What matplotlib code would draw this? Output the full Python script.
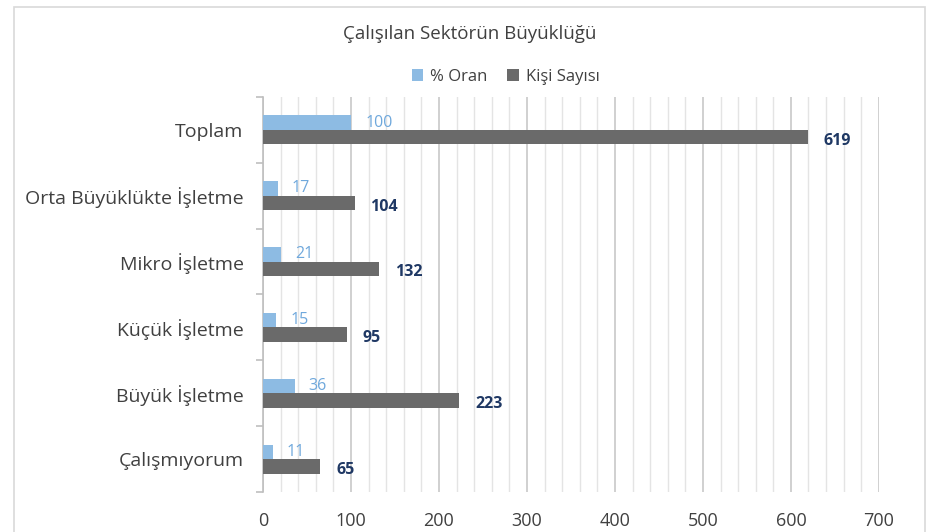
import matplotlib.pyplot as plt
import numpy as np
from matplotlib.patches import Rectangle
from matplotlib.ticker import MultipleLocator

plt.rcParams['font.family'] = ['Open Sans', 'DejaVu Sans']

categories = ['Çalışmıyorum', 'Büyük İşletme', 'Küçük İşletme', 'Mikro İşletme',
              'Orta Büyüklükte İşletme', 'Toplam']
oran = [11, 36, 15, 21, 17, 100]
kisi = [65, 223, 95, 132, 104, 619]

fig = plt.figure(figsize=(9.31, 5.32), dpi=100)
ax = fig.add_axes([0.2825, 0.075, 0.6615, 0.743])

# chart frame
fig.patches.append(Rectangle((14 / 931, -0.05), 911 / 931, 1 - 7 / 532 + 0.05,
                             transform=fig.transFigure, fill=False,
                             edgecolor='#d9d9d9', linewidth=1.2))

y = np.arange(len(categories))
h = 0.22
ax.barh(y + h / 2, oran, height=h, color='#8dbbe3', label='% Oran', zorder=3)
ax.barh(y - h / 2, kisi, height=h, color='#6a6a6a', label='Kişi Sayısı', zorder=3)

for i in range(len(categories)):
    ax.text(oran[i] + 16, y[i] + h * 0.5, str(oran[i]), color='#6fa8dc',
            fontsize=11.5, va='center', ha='left', zorder=4)
    ax.text(kisi[i] + 18, y[i] - h * 0.75, str(kisi[i]), color='#1f3864',
            fontsize=11.5, fontweight='bold', va='center', ha='left', zorder=4)

ax.set_xlim(0, 700)
ax.set_ylim(-0.5, 5.5)
ax.xaxis.set_major_locator(MultipleLocator(100))
ax.xaxis.set_minor_locator(MultipleLocator(20))
ax.grid(axis='x', which='major', color='#d0d0d0', linewidth=1.4, zorder=0)
ax.grid(axis='x', which='minor', color='#e4e4e4', linewidth=1.0, zorder=0)
ax.tick_params(axis='x', which='both', length=0, labelsize=13, colors='#404040', pad=14)

ax.set_yticks(y)
ax.set_yticklabels(categories)
ax.set_yticks(np.arange(-0.5, 6, 1), minor=True)
ax.tick_params(axis='y', which='major', length=0, labelsize=14, colors='#404040', pad=14)
ax.tick_params(axis='y', which='minor', length=5, color='#bfbfbf', width=1.2)

for s in ['top', 'right', 'bottom']:
    ax.spines[s].set_visible(False)
ax.spines['left'].set_color('#bfbfbf')
ax.spines['left'].set_linewidth(1.2)

fig.text(0.504, 0.937, 'Çalışılan Sektörün Büyüklüğü', ha='center', va='center',
         fontsize=13.5, color='#404040')
fig.legend(loc='center', bbox_to_anchor=(0.543, 0.855), ncol=2, frameon=False,
           fontsize=12, handlelength=0.7, handleheight=0.7, handletextpad=0.4,
           columnspacing=1.2, labelcolor='#404040')

fig.savefig('out.png', dpi=100)
